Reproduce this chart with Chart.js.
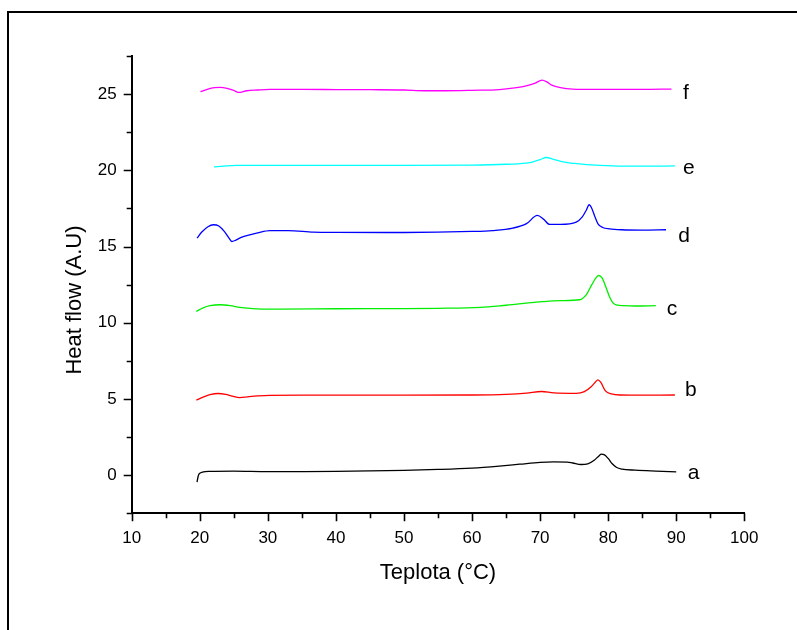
<!DOCTYPE html>
<html>
<head>
<meta charset="utf-8">
<script src="https://cdn.jsdelivr.net/npm/chart.js@4/dist/chart.umd.min.js"></script>
<style>
html,body{margin:0;padding:0;background:#fff;}
canvas{display:block;}
</style>
</head>
<body>
<canvas id="c" width="797" height="630" style="width:797px;height:630px"></canvas>
<script>
// ---- data ----
const xTickLabels = [10, 20, 30, 40, 50, 60, 70, 80, 90, 100];
const yTickLabels = [0, 5, 10, 15, 20, 25];
const seriesNames = ['a', 'b', 'c', 'd', 'e', 'f'];
const seriesColors = ['#000000', '#ff0000', '#00ee00', '#0000ff', '#00ffff', '#ff00ff'];

const aX = [19.6, 19.75, 19.9, 20.4, 21.5, 25, 30, 35, 40, 45, 50, 55, 60, 64, 67, 70, 72, 74, 74.8, 76, 77, 78, 78.6, 79, 79.4, 80, 80.6, 81.2, 82, 84, 87, 90];
const aY = [-0.45, -0.1, 0.08, 0.2, 0.25, 0.27, 0.24, 0.24, 0.25, 0.28, 0.32, 0.38, 0.47, 0.6, 0.72, 0.84, 0.87, 0.86, 0.8, 0.7, 0.75, 1.0, 1.25, 1.38, 1.35, 1.1, 0.75, 0.52, 0.4, 0.33, 0.27, 0.22];

const bX = [19.5, 20.5, 21.5, 22.7, 23.8, 24.8, 25.9, 27, 28.5, 30.3, 35, 40, 50, 60, 65, 68, 70.2, 72, 75.3, 76.5, 77.5, 78.1, 78.5, 78.9, 79.6, 80.5, 81.7, 84, 89.8];
const bY = [4.93, 5.12, 5.28, 5.36, 5.3, 5.18, 5.09, 5.14, 5.2, 5.24, 5.25, 5.25, 5.25, 5.26, 5.3, 5.38, 5.49, 5.4, 5.37, 5.48, 5.8, 6.1, 6.25, 6.1, 5.53, 5.33, 5.26, 5.25, 5.26];

const cX = [19.5, 20.5, 21.5, 23, 24.5, 25.9, 27.5, 29, 32, 40, 50, 55, 61.2, 65, 70.4, 73, 75.8, 76.8, 77.6, 78.2, 78.6, 79.1, 79.7, 80.2, 80.7, 81.4, 82.2, 84, 87];
const cY = [10.75, 10.98, 11.12, 11.18, 11.12, 11.01, 10.94, 10.9, 10.9, 10.92, 10.93, 10.95, 11.01, 11.15, 11.38, 11.45, 11.51, 11.85, 12.5, 12.95, 13.1, 12.95, 12.3, 11.7, 11.3, 11.15, 11.12, 11.1, 11.12];

const dX = [19.6, 20.3, 21.2, 22.0, 22.8, 23.6, 24.3, 24.7, 25.3, 26.0, 26.9, 28.5, 30.3, 33, 36.7, 40, 50, 60, 63, 66, 68, 69.6, 70.5, 71.4, 73, 75.3, 76.2, 76.8, 77.2, 77.6, 78.1, 78.5, 79.2, 80.2, 82, 85, 88.5];
const dY = [15.55, 15.95, 16.3, 16.43, 16.35, 16.0, 15.55, 15.33, 15.42, 15.58, 15.72, 15.9, 16.05, 16.05, 15.95, 15.93, 15.92, 15.99, 16.05, 16.21, 16.5, 17.04, 16.8, 16.45, 16.45, 16.6, 16.95, 17.4, 17.74, 17.5, 16.9, 16.49, 16.25, 16.16, 16.1, 16.08, 16.1];

const eX = [22.1, 23.5, 25.4, 30, 40, 50, 60, 65, 68.5, 70, 70.9, 72, 73.4, 75, 76.8, 80.7, 85, 89.8];
const eY = [20.22, 20.28, 20.33, 20.33, 20.32, 20.32, 20.34, 20.4, 20.5, 20.7, 20.84, 20.72, 20.55, 20.45, 20.38, 20.29, 20.27, 20.29];

const fX = [20.1, 21.2, 22.2, 23.0, 24.0, 24.9, 25.7, 26.9, 28.5, 30.3, 35, 40, 45, 50, 53, 56, 60, 64, 67.5, 69.2, 70.3, 71, 71.7, 73, 74.8, 78, 85, 89.3];
const fY = [25.16, 25.33, 25.42, 25.44, 25.38, 25.26, 25.11, 25.22, 25.27, 25.31, 25.31, 25.3, 25.29, 25.27, 25.22, 25.22, 25.25, 25.3, 25.49, 25.7, 25.92, 25.8, 25.59, 25.42, 25.33, 25.31, 25.31, 25.33];

// curve tag anchors (data coords, left / baseline)
const tagX = [91.7, 91.3, 88.6, 90.3, 91.0, 91.0];
const tagY = [-0.24, 5.2, 10.51, 15.33, 19.78, 24.66];

const xTitle = 'Teplota (°C)';
const yTitle = 'Heat flow (A.U)';

// ---- build chart ----
const allX = [aX, bX, cX, dX, eX, fX];
const allY = [aY, bY, cY, dY, eY, fY];
const datasets = allX.map((xs, i) => ({
  label: seriesNames[i],
  data: xs.map((x, j) => ({x: x, y: allY[i][j]})),
  borderColor: seriesColors[i],
  borderWidth: 1.3,
  pointRadius: 0,
  fill: false,
  cubicInterpolationMode: 'monotone'
}));

const FONT = '"Liberation Sans", Arial, sans-serif';

const decor = {
  id: 'decor',
  afterDraw(chart) {
    const ctx = chart.ctx;
    const xs = chart.scales.x, ys = chart.scales.y;
    const ca = chart.chartArea;
    ctx.save();
    // frame
    ctx.strokeStyle = '#000';
    ctx.lineWidth = 2;
    ctx.beginPath();
    ctx.moveTo(8, 640);
    ctx.lineTo(8, 12);
    ctx.lineTo(805, 12);
    ctx.stroke();
    // ticks
    ctx.lineWidth = 1.6;
    ctx.beginPath();
    for (let v = 10; v <= 100; v += 5) {
      const p = Math.round(xs.getPixelForValue(v)) + 0.5;
      const len = (v % 10 === 0) ? 8 : 5;
      ctx.moveTo(p, ca.bottom);
      ctx.lineTo(p, ca.bottom + len);
    }
    for (let v = -2.5; v <= 27.5; v += 2.5) {
      const p = Math.round(ys.getPixelForValue(v)) + 0.5;
      const len = (Math.abs(v % 5) < 1e-9) ? 8 : 5;
      ctx.moveTo(ca.left, p);
      ctx.lineTo(ca.left - len, p);
    }
    ctx.stroke();
    // curve tags
    ctx.fillStyle = '#000';
    ctx.font = '21px ' + FONT;
    ctx.textAlign = 'left';
    ctx.textBaseline = 'alphabetic';
    seriesNames.forEach((n, i) => {
      ctx.fillText(n, xs.getPixelForValue(tagX[i]), ys.getPixelForValue(tagY[i]));
    });
    // axis titles
    ctx.font = '22px ' + FONT;
    ctx.textAlign = 'center';
    ctx.fillText(xTitle, (ca.left + ca.right) / 2, ca.bottom + 66);
    ctx.translate(81, 300);
    ctx.rotate(-Math.PI / 2);
    ctx.textBaseline = 'alphabetic';
    ctx.fillText(yTitle, 0, 0);
    ctx.restore();
  }
};

new Chart(document.getElementById('c'), {
  type: 'line',
  data: {datasets: datasets},
  options: {
    responsive: false,
    animation: false,
    layout: {padding: {left: 0, right: 52.7, top: 56, bottom: 0}},
    plugins: {legend: {display: false}, tooltip: {enabled: false}},
    scales: {
      x: {
        type: 'linear', min: 10, max: 100,
        afterBuildTicks: s => { s.ticks = xTickLabels.map(v => ({value: v})); },
        afterFit: s => { s.height = 630 - 513.3; },
        grid: {display: true, drawOnChartArea: false, drawTicks: false},
        border: {display: true, color: '#000', width: 2},
        ticks: {color: '#000', font: {family: FONT, size: 17}, padding: 15, maxRotation: 0}
      },
      y: {
        type: 'linear', min: -2.5, max: 27.5,
        afterBuildTicks: s => { s.ticks = yTickLabels.map(v => ({value: v})); },
        afterFit: s => { s.width = 131.7; },
        grid: {display: true, drawOnChartArea: false, drawTicks: false},
        border: {display: true, color: '#000', width: 2},
        ticks: {color: '#000', font: {family: FONT, size: 17}, padding: 15}
      }
    }
  },
  plugins: [decor]
});
</script>
</body>
</html>
